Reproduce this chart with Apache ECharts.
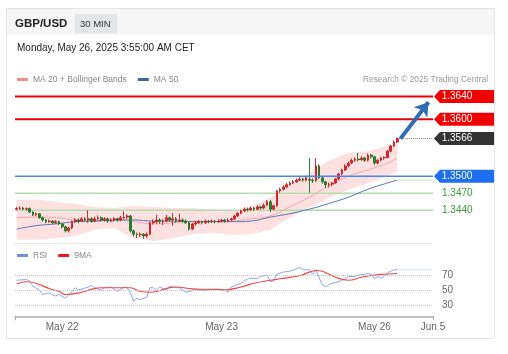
<!DOCTYPE html>
<html>
<head>
<meta charset="utf-8">
<script src="https://cdn.jsdelivr.net/npm/echarts@6/dist/echarts.min.js"></script>
<style>
html, body { margin: 0; padding: 0; background: #fff; }
#chart { width: 508px; height: 354px; }
</style>
</head>
<body>
<div id="chart"></div>
<script>
// GBP/USD 30 min candles, from May 21 ~17:00 to May 26 03:30 : [open, close, low, high]
var candles = [
    [1.3442,1.3443,1.3440,1.3446],[1.3443,1.3444,1.3441,1.3447],[1.3444,1.3442,1.3440,1.3446],[1.3442,1.3443,1.3440,1.3445],
    [1.3443,1.3437,1.3435,1.3445],[1.3437,1.3432,1.3430,1.3438],[1.3432,1.3434,1.3430,1.3436],[1.3434,1.3427,1.3425,1.3435],
    [1.3427,1.3423,1.3420,1.3429],[1.3423,1.3420,1.3417,1.3425],[1.3420,1.3421,1.3418,1.3424],[1.3421,1.3418,1.3416,1.3423],
    [1.3418,1.3420,1.3416,1.3423],[1.3420,1.3416,1.3414,1.3422],[1.3416,1.3411,1.3408,1.3418],[1.3411,1.3404,1.3401,1.3413],
    [1.3404,1.3409,1.3401,1.3411],[1.3409,1.3420,1.3407,1.3422],[1.3420,1.3423,1.3418,1.3426],[1.3423,1.3421,1.3417,1.3426],
    [1.3421,1.3425,1.3419,1.3428],[1.3425,1.3423,1.3420,1.3428],[1.3423,1.3425,1.3418,1.3440],[1.3425,1.3421,1.3418,1.3428],
    [1.3421,1.3425,1.3419,1.3429],[1.3425,1.3427,1.3422,1.3431],[1.3427,1.3423,1.3420,1.3429],[1.3423,1.3425,1.3420,1.3428],
    [1.3425,1.3421,1.3418,1.3427],[1.3421,1.3423,1.3419,1.3426],[1.3423,1.3425,1.3420,1.3428],[1.3425,1.3423,1.3420,1.3427],
    [1.3423,1.3427,1.3421,1.3430],[1.3427,1.3428,1.3424,1.3438],[1.3428,1.3430,1.3425,1.3433],[1.3430,1.3404,1.3401,1.3432],
    [1.3404,1.3398,1.3394,1.3406],[1.3398,1.3397,1.3391,1.3401],[1.3397,1.3398,1.3393,1.3401],[1.3398,1.3395,1.3390,1.3400],
    [1.3395,1.3398,1.3392,1.3401],[1.3398,1.3418,1.3396,1.3420],[1.3418,1.3420,1.3415,1.3424],[1.3420,1.3423,1.3416,1.3432],
    [1.3423,1.3420,1.3416,1.3426],[1.3420,1.3421,1.3414,1.3424],[1.3421,1.3427,1.3419,1.3432],[1.3427,1.3423,1.3420,1.3429],
    [1.3423,1.3425,1.3413,1.3435],[1.3425,1.3421,1.3418,1.3428],[1.3421,1.3423,1.3419,1.3434],[1.3423,1.3421,1.3418,1.3426],
    [1.3421,1.3418,1.3416,1.3424],[1.3418,1.3407,1.3404,1.3420],[1.3407,1.3416,1.3405,1.3418],[1.3416,1.3418,1.3413,1.3421],
    [1.3418,1.3420,1.3416,1.3423],[1.3420,1.3418,1.3415,1.3422],[1.3418,1.3421,1.3416,1.3424],[1.3421,1.3420,1.3417,1.3423],
    [1.3420,1.3421,1.3418,1.3424],[1.3421,1.3420,1.3417,1.3423],[1.3420,1.3421,1.3418,1.3424],[1.3421,1.3423,1.3419,1.3425],
    [1.3423,1.3421,1.3418,1.3425],[1.3421,1.3423,1.3419,1.3426],[1.3423,1.3425,1.3421,1.3427],[1.3425,1.3430,1.3423,1.3432],
    [1.3430,1.3435,1.3428,1.3437],[1.3435,1.3439,1.3433,1.3441],[1.3439,1.3442,1.3437,1.3445],[1.3442,1.3441,1.3438,1.3445],
    [1.3441,1.3444,1.3439,1.3447],[1.3444,1.3442,1.3439,1.3446],[1.3442,1.3446,1.3440,1.3449],[1.3446,1.3444,1.3441,1.3448],
    [1.3444,1.3449,1.3442,1.3452],[1.3449,1.3455,1.3447,1.3458],[1.3455,1.3442,1.3437,1.3458],[1.3442,1.3448,1.3440,1.3450],
    [1.3448,1.3474,1.3446,1.3476],[1.3474,1.3477,1.3471,1.3480],[1.3477,1.3481,1.3475,1.3484],[1.3481,1.3485,1.3479,1.3488],
    [1.3485,1.3488,1.3483,1.3491],[1.3488,1.3490,1.3486,1.3493],[1.3490,1.3493,1.3488,1.3496],[1.3493,1.3495,1.3491,1.3498],
    [1.3495,1.3493,1.3490,1.3497],[1.3493,1.3497,1.3491,1.3500],[1.3494,1.3493,1.3471,1.3532],[1.3493,1.3492,1.3488,1.3496],
    [1.3492,1.3518,1.3490,1.3532],[1.3518,1.3497,1.3495,1.3521],[1.3497,1.3490,1.3487,1.3499],[1.3490,1.3485,1.3479,1.3492],
    [1.3485,1.3486,1.3480,1.3489],[1.3486,1.3488,1.3482,1.3490],[1.3488,1.3495,1.3486,1.3497],[1.3495,1.3504,1.3493,1.3506],
    [1.3504,1.3511,1.3502,1.3513],[1.3511,1.3518,1.3509,1.3521],[1.3518,1.3523,1.3516,1.3526],[1.3523,1.3528,1.3521,1.3531],
    [1.3528,1.3530,1.3525,1.3533],[1.3530,1.3529,1.3526,1.3541],[1.3529,1.3532,1.3527,1.3535],[1.3532,1.3528,1.3525,1.3534],
    [1.3528,1.3537,1.3526,1.3540],[1.3537,1.3534,1.3531,1.3539],[1.3534,1.3523,1.3520,1.3536],[1.3523,1.3528,1.3521,1.3530],
    [1.3528,1.3532,1.3526,1.3534],[1.3532,1.3533,1.3529,1.3535],[1.3533,1.3544,1.3531,1.3546],[1.3544,1.3553,1.3542,1.3555],
    [1.3553,1.3560,1.3551,1.3563],[1.3560,1.3566,1.3558,1.3568]
];

// x axis labels (candle index of each day start, Jun 5 = right end)
var dayLabels = ['May 22', 'May 23', 'May 26', 'Jun 5'];
var dayIndex = [14, 63, 110, 128];

// moving averages and bollinger bands, read every 6 candles
var bandIndex = [0, 6, 12, 18, 24, 30, 36, 42, 48, 54, 60, 66, 72, 78, 84, 90, 96, 102, 108, 114, 117];
var ma20 = [1.3427,1.3428,1.3427,1.3423,1.3421,1.3423,1.3420,1.3416,1.3418,1.3421,1.3420,1.3421,1.3425,1.3430,1.3446,1.3463,1.3483,1.3500,1.3511,1.3523,1.3532];
var bbUpper = [1.3458,1.3459,1.3455,1.3451,1.3446,1.3444,1.3448,1.3446,1.3444,1.3444,1.3442,1.3439,1.3446,1.3462,1.3485,1.3506,1.3527,1.3541,1.3544,1.3553,1.3557];
var bbLower = [1.3388,1.3388,1.3391,1.3395,1.3406,1.3409,1.3391,1.3386,1.3391,1.3398,1.3400,1.3397,1.3398,1.3406,1.3427,1.3444,1.3462,1.3476,1.3488,1.3500,1.3507];
var ma50 = [1.3407,1.3413,1.3416,1.3420,1.3421,1.3423,1.3423,1.3421,1.3421,1.3420,1.3420,1.3420,1.3421,1.3428,1.3434,1.3442,1.3452,1.3463,1.3477,1.3488,1.3493];

// RSI and its 9 period MA : [candle index, value]
var rsi = [[0,63],[3,64],[4,62],[5,55],[7,50],[8,44],[10,46],[12,42],[13,44],[15,39],[16,43],[18,53],[19,50],[22,54],[23,56],
    [24,53],[26,50],[27,53],[29,54],[31,48],[33,54],[34,53],[35,46],[36,35],[37,39],[38,37],[39,39],[40,40],[41,53],[42,53],
    [43,50],[44,54],[46,50],[47,55],[49,53],[50,53],[52,47],[54,49],[55,51],[56,50],[58,49],[59,50],[61,51],[62,51],[64,50],
    [65,47],[66,54],[69,59],[71,65],[72,66],[74,65],[75,68],[77,70],[78,61],[79,62],[80,71],[82,74],[84,75],[86,78],[87,80],
    [88,77],[90,77],[91,71],[92,77],[93,66],[94,57],[95,54],[96,57],[97,59],[98,60],[99,61],[101,65],[102,68],[104,68],
    [105,70],[107,71],[108,72],[109,71],[110,65],[111,68],[112,66],[113,68],[114,73],[115,75],[116,77],[117,77]];
var rsiMa9 = [[0,58],[3,61],[6,59],[10,52],[13,48],[15,44],[20,47],[23,51],[26,53],[32,53],[35,53],[38,48],[41,47],[43,48],
    [46,52],[49,54],[53,52],[56,51],[61,51],[64,50],[69,54],[73,59],[78,63],[81,65],[87,69],[92,76],[94,75],[98,67],
    [102,63],[106,67],[110,70],[113,71],[117,72]];
var rsiTicks = [30, 50, 70];

// key levels
var resistances = [1.3640, 1.3600];
var pivot = 1.3500;
var supports = [1.3470, 1.3440];
var lastPrice = 1.3566;
var arrowFrom = [118, 1.3566];
var arrowTo = [126.6, 1.3630];

var chart = echarts.init(document.getElementById('chart'));
var lastIdx = candles.length - 1;
var xMax = dayIndex[dayIndex.length - 1];
var tagPath = 'path://M0,6.5L6,0L60,0L60,13L6,13Z';

function pairs(idx, vals) {
    return idx.map(function (x, k) { return [x, vals[k]]; });
}
function tag(v, color) {
    return { name: v.toFixed(4), coord: [xMax, v], itemStyle: { color: color } };
}
// horizontal level as a two point line across the whole x range
function levelLine(v, color, width, showLabel) {
    return {
        type: 'line', xAxisIndex: 0, yAxisIndex: 0, z: 2, symbol: 'none', silent: true,
        data: [[-0.5, v], [xMax, v]],
        lineStyle: { color: color, width: width },
        endLabel: { show: showLabel, distance: 9, color: '#3a9a3a', fontSize: 10, formatter: v.toFixed(4) }
    };
}

option = {
    animation: false,
    textStyle: { fontFamily: 'Arial, sans-serif' },
    graphic: [
        { type: 'rect', z: -10, shape: { x: 6.5, y: 8.5, width: 488, height: 330 }, style: { fill: '#fff', stroke: '#e4e4e4', lineWidth: 1 } },
        { type: 'rect', z: -9, shape: { x: 7, y: 9, width: 487, height: 26 }, style: { fill: '#f6f6f6' } },
        { type: 'rect', z: -8, shape: { x: 75, y: 14, width: 42, height: 19 }, style: { fill: '#e3e6e9' } },
        { type: 'text', x: 15, y: 24, style: { text: 'GBP/USD', font: 'bold 11.5px Arial', fill: '#222', verticalAlign: 'middle' } },
        { type: 'text', x: 80, y: 24, style: { text: '30 MIN', font: '9.5px Arial', fill: '#333', verticalAlign: 'middle' } },
        { type: 'text', x: 17, y: 48, style: { text: 'Monday, May 26, 2025 3:55:00 AM CET', font: '10px Arial', fill: '#222', verticalAlign: 'middle' } },
        { type: 'text', x: 488, y: 80, style: { text: 'Research \u00a9 2025 Trading Central', font: '8.4px Arial', fill: '#999', align: 'right', verticalAlign: 'middle' } }
    ],
    legend: [
        {
            left: 17, top: 75, padding: 0, itemGap: 11, itemWidth: 11, itemHeight: 3, icon: 'rect', selectedMode: false,
            textStyle: { color: '#888', fontSize: 8.5 },
            data: ['MA 20 + Bollinger Bands', 'MA 50']
        },
        {
            left: 17, top: 251, padding: 0, itemGap: 11, itemWidth: 11, itemHeight: 3, icon: 'rect', selectedMode: false,
            textStyle: { color: '#888', fontSize: 8.5 },
            data: ['RSI', '9MA']
        }
    ],
    grid: [
        { left: 15, right: 75, top: 88, height: 155, outerBoundsMode: 'none' },
        { left: 15, right: 75, top: 260, height: 56.25, outerBoundsMode: 'none' }
    ],
    xAxis: [
        {
            type: 'value', gridIndex: 0, min: -0.5, max: xMax, z: 5,
            axisLine: { show: true, lineStyle: { color: '#e4e4e4', type: 'dotted' } },
            axisTick: { show: false }, axisLabel: { show: false }, splitLine: { show: false }
        },
        {
            type: 'value', gridIndex: 1, min: -0.5, max: xMax,
            axisLine: { show: true, onZero: false, lineStyle: { color: '#aaa', width: 1.5 } },
            axisTick: { show: true, customValues: [-0.5, xMax], length: 4, lineStyle: { color: '#aaa' } },
            axisLabel: {
                customValues: dayIndex, color: '#666', fontSize: 10, margin: 6,
                formatter: function (v) { return dayLabels[dayIndex.indexOf(v)]; }
            },
            splitLine: { show: false }
        }
    ],
    yAxis: [
        { type: 'value', gridIndex: 0, min: 1.33825, max: 1.3655, show: false },
        {
            type: 'value', gridIndex: 1, min: 15, max: 90, position: 'right',
            axisLine: { show: false }, axisTick: { show: false }, splitLine: { show: false },
            axisLabel: { customValues: rsiTicks, color: '#666', fontSize: 10, margin: 9 }
        }
    ],
    series: [
        {
            // bollinger band fill
            type: 'custom', xAxisIndex: 0, yAxisIndex: 0, silent: true, z: 1,
            data: [[bandIndex[0], bbLower[0]]],
            renderItem: function (params, api) {
                var top = bandIndex.map(function (x, k) { return api.coord([x, bbUpper[k]]); });
                var bottom = bandIndex.map(function (x, k) { return api.coord([x, bbLower[k]]); }).reverse();
                return { type: 'polygon', shape: { points: top.concat(bottom) }, style: { fill: '#fde1e1' } };
            }
        },
        levelLine(supports[0], '#b5dcae', 1.5, true),
        levelLine(supports[1], '#b5dcae', 1.5, true),
        {
            name: 'MA 20 + Bollinger Bands', type: 'line', xAxisIndex: 0, yAxisIndex: 0, z: 2,
            data: pairs(bandIndex, ma20), smooth: 0.4, showSymbol: false, symbol: 'none',
            color: '#f28e8e', lineStyle: { color: '#f6a7a7', width: 1 }
        },
        {
            name: 'MA 50', type: 'line', xAxisIndex: 0, yAxisIndex: 0, z: 2,
            data: pairs(bandIndex, ma50), smooth: 0.4, showSymbol: false, symbol: 'none',
            color: '#3d64ad', lineStyle: { color: '#5577bb', width: 1 }
        },
        {
            type: 'line', xAxisIndex: 0, yAxisIndex: 0, z: 2, symbol: 'none', silent: true,
            data: [[lastIdx, ma50[ma50.length - 1]], [xMax, ma50[ma50.length - 1]]],
            lineStyle: { color: '#9fb3d6', width: 1, type: 'dotted' }
        },
        {
            type: 'line', xAxisIndex: 0, yAxisIndex: 0, z: 2, symbol: 'none', silent: true,
            data: [[lastIdx, lastPrice], [xMax, lastPrice]],
            lineStyle: { color: '#777', width: 1, type: 'dotted' }
        },
        {
            type: 'candlestick', xAxisIndex: 0, yAxisIndex: 0, z: 3, clip: false,
            barWidth: 2.2,
            data: candles.map(function (c, i) { return [i, c[0], c[1], c[2], c[3]]; }),
            itemStyle: {
                color: '#e3262b', color0: '#2a862a',
                borderColor: '#c81e22', borderColor0: '#236f23', borderWidth: 0.9
            }
        },
        levelLine(resistances[0], '#e8000f', 2, false),
        levelLine(resistances[1], '#e8000f', 2, false),
        {
            type: 'line', xAxisIndex: 0, yAxisIndex: 0, z: 4, symbol: 'none', silent: true, clip: false,
            data: [[-0.5, pivot], [xMax, pivot]],
            lineStyle: { color: '#4a86ee', width: 1.5 },
            markLine: {
                silent: true, symbol: ['none', 'arrow'], symbolSize: 13,
                lineStyle: { color: '#2f6cb3', width: 4, type: 'solid' },
                label: { show: false },
                data: [[{ coord: arrowFrom }, { coord: arrowTo }]]
            },
            markPoint: {
                symbol: tagPath, symbolSize: [60, 13], symbolOffset: [31, 0], silent: true,
                label: { show: true, position: 'inside', offset: [-7, 0], color: '#fff', fontSize: 10, formatter: '{b}' },
                data: [
                    tag(resistances[0], '#f20000'),
                    tag(resistances[1], '#f20000'),
                    tag(lastPrice, '#333'),
                    tag(pivot, '#1d6ff0')
                ]
            }
        },
        {
            name: 'RSI', type: 'line', xAxisIndex: 1, yAxisIndex: 1, z: 3,
            data: rsi, showSymbol: false, symbol: 'none',
            color: '#6f8fe4', lineStyle: { color: '#8ea8ee', width: 1 },
            markLine: {
                silent: true, symbol: 'none', label: { show: false },
                lineStyle: { color: '#c4c4c4', width: 1, type: 'dotted' },
                data: rsiTicks.map(function (v) { return { yAxis: v }; })
            }
        },
        {
            name: '9MA', type: 'line', xAxisIndex: 1, yAxisIndex: 1, z: 4,
            data: rsiMa9, smooth: 0.4, showSymbol: false, symbol: 'none',
            color: '#f01818', lineStyle: { color: '#f04646', width: 1.2 }
        },
        {
            type: 'line', xAxisIndex: 1, yAxisIndex: 1, z: 3, symbol: 'none', silent: true,
            data: [[lastIdx, rsi[rsi.length - 1][1]], [xMax, rsi[rsi.length - 1][1]]],
            lineStyle: { color: '#a9bbef', width: 1, type: 'dotted' }
        }
    ]
};

chart.setOption(option);
</script>
</body>
</html>
